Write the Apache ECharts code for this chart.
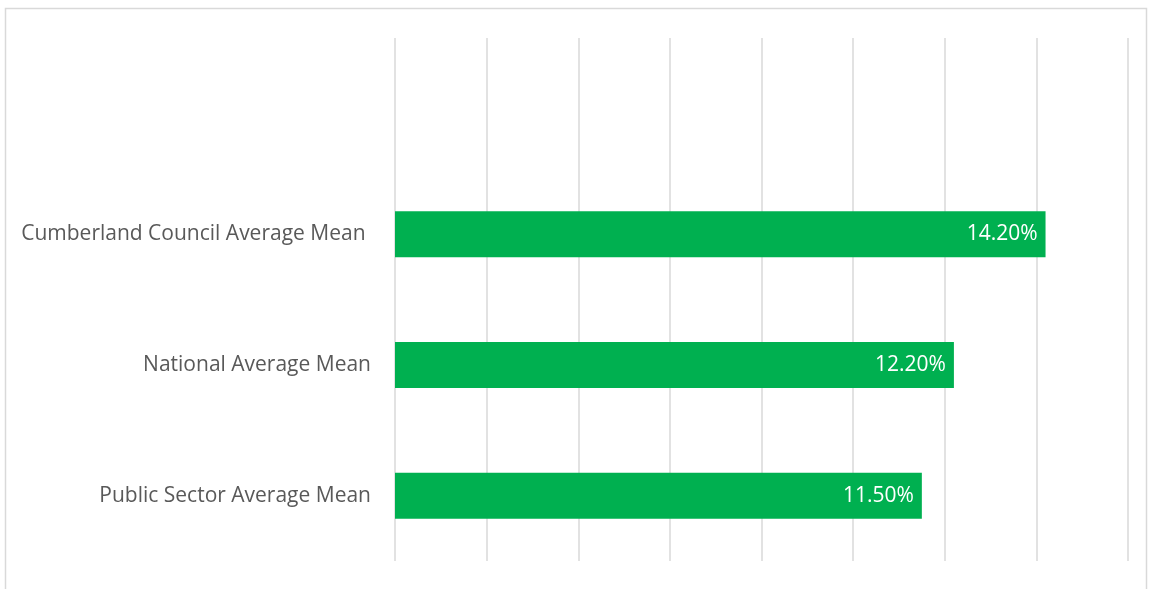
<!DOCTYPE html>
<html>
<head>
<meta charset="utf-8">
<script src="https://cdn.jsdelivr.net/npm/echarts@6/dist/echarts.min.js"></script>
<style>
html,body{margin:0;padding:0;background:#fff;}
#chart{width:1150px;height:589px;}
</style>
</head>
<body>
<div id="chart"></div>
<script>
// Categories top to bottom (first slot is empty in the original)
const categories = ['', 'Cumberland Council Average Mean ', 'National Average Mean', 'Public Sector Average Mean'];
const values = [null, 14.2, 12.2, 11.5];
const axisMin = 0, axisMax = 16, axisInterval = 2;

const chart = echarts.init(document.getElementById('chart'), null, {renderer: 'canvas'});
chart.setOption({
  backgroundColor: '#fff',
  animation: false,
  graphic: [{
    type: 'rect', silent: true, z: -1,
    shape: {x: 5.5, y: 8.5, width: 1141, height: 620},
    style: {fill: 'none', stroke: '#d9d9d9', lineWidth: 1.5}
  }],
  grid: {left: 395, right: 22, top: 38, bottom: 28, containLabel: false},
  xAxis: {
    type: 'value', min: axisMin, max: axisMax, interval: axisInterval,
    axisLabel: {show: false}, axisLine: {show: false}, axisTick: {show: false},
    splitLine: {show: true, lineStyle: {color: '#d9d9d9', width: 1.5}}
  },
  yAxis: {
    type: 'category', inverse: true, data: categories,
    axisLine: {show: false}, axisTick: {show: false},
    axisLabel: {color: '#595959', fontSize: 21, fontFamily: '"Open Sans", sans-serif', margin: 24, padding: [3, 0, 0, 0]}
  },
  series: [{
    type: 'bar', data: values, barWidth: 46,
    itemStyle: {color: '#00b050'},
    label: {
      show: true, position: 'insideRight', distance: 8,
      color: '#fff', fontSize: 21, fontFamily: '"Open Sans", sans-serif',
      padding: [3, 0, 0, 0],
      formatter: p => p.value.toFixed(2) + '%'
    }
  }]
});
</script>
</body>
</html>
